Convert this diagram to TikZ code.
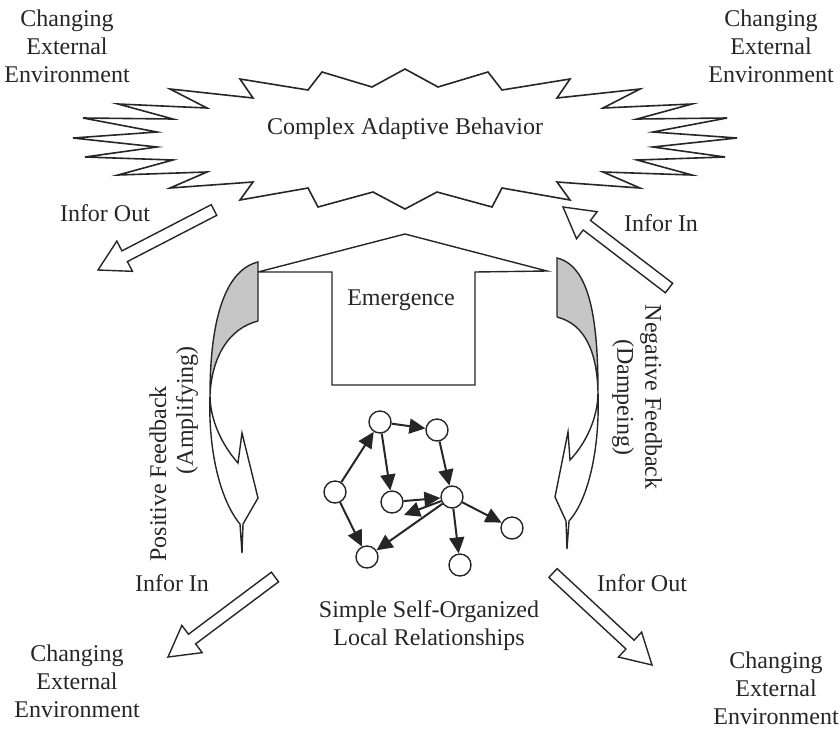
\documentclass[tikz,border=0pt]{standalone}
\usepackage{fontspec}
\setmainfont{Liberation Serif}
\usetikzlibrary{arrows.meta,calc}
\definecolor{ink}{HTML}{262626}
\definecolor{bandgrey}{HTML}{C6C6C6}
% hollow block arrow from #1 (tail) to #2 (tip)
\newcommand\hollowarrow[2]{%
  \coordinate (#1-neck) at ($(#2)!30pt!(#1)$);
  \draw[hollow] ($(#1)!6pt!90:(#2)$) -- ($(#1-neck)!6pt!90:(#2)$)
    -- ($(#1-neck)!17pt!90:(#2)$) -- (#2)
    -- ($(#1-neck)!17pt!-90:(#2)$) -- ($(#1-neck)!6pt!-90:(#2)$)
    -- ($(#1)!6pt!-90:(#2)$) -- cycle;}
\begin{document}
\begin{tikzpicture}[x=1pt,y=-1pt,
  lbl/.style={font=\fontsize{24}{28}\selectfont, text=ink, align=center, inner sep=0},
  outline/.style={draw=ink, line width=1.4pt, line join=miter},
  netnode/.style={circle, draw=ink, line width=1.4pt, minimum size=22pt, inner sep=0, fill=white},
  link/.style={draw=ink, line width=2pt, -{Triangle[length=16pt,width=15pt]}},
  hollow/.style={draw=ink, line width=1.4pt, fill=white, line join=miter}]
\useasboundingbox (0,0) rectangle (840,729);

% starburst
\draw[outline, line width=1.6pt]
  (73,138) -- (157,132) -- (83,118) -- (173,119) -- (118,104) -- (207,108)
  -- (170,89) -- (253,98) -- (240,79) -- (308,90) -- (322,72) -- (372,87)
  -- (405,69) -- (438,87) -- (488,72) -- (502,90) -- (570,79) -- (557,98)
  -- (640,89) -- (603,108) -- (692,104) -- (637,119) -- (727,118) -- (653,132)
  -- (737,138) -- (653,147) -- (725,157) -- (637,160) -- (692,175) -- (603,172)
  -- (640,188) -- (557,182) -- (570,200) -- (502,188) -- (492,207) -- (437,192)
  -- (405,209) -- (373,192) -- (318,207) -- (308,188) -- (240,200) -- (253,182)
  -- (170,188) -- (207,172) -- (118,175) -- (173,160) -- (85,157) -- (157,147)
  -- cycle;
\node[lbl] (cab) at (405,129) {Complex Adaptive Behavior};

% emergence block
\draw[outline, fill=white] (258,272) -- (405,234) -- (547,271) -- (475,272)
  -- (475,385) -- (332,385) -- (332,272) -- cycle;
\node[lbl] (emg) at (401,300) {Emergence};

% left twisted feedback arrow
\fill[bandgrey] (258,262) .. controls (225,270) and (210,320) .. (210,395)
  .. controls (212,355) and (230,328) .. (258,321) -- cycle;
\draw[outline] (258,321) -- (258,262) .. controls (225,270) and (210,320) .. (210,395)
  .. controls (208,450) and (220,500) .. (240,524) -- (242,553) -- (243,524)
  -- (258,498) -- (242,433) -- (238,463)
  .. controls (222,445) and (210,420) .. (210,395)
  .. controls (212,355) and (230,328) .. (258,321);

% right twisted feedback arrow
\fill[bandgrey] (557,258) .. controls (590,266) and (598,320) .. (598,392)
  .. controls (597,352) and (585,324) .. (557,317) -- cycle;
\draw[outline] (557,317) -- (557,258) .. controls (590,266) and (598,320) .. (598,392)
  .. controls (600,450) and (588,500) .. (569,521) -- (567,549) -- (566,521)
  -- (555,497) -- (568,432) -- (570,460)
  .. controls (586,443) and (598,418) .. (598,392)
  .. controls (597,352) and (585,324) .. (557,317);

% information arrows
\coordinate (ulT) at (214,210); \coordinate (ulH) at (98,270);
\coordinate (urT) at (669,288); \coordinate (urH) at (563,207);
\coordinate (llT) at (275,577); \coordinate (llH) at (168,657);
\coordinate (lrT) at (553,573); \coordinate (lrH) at (652,665);
\hollowarrow{ulT}{ulH}
\hollowarrow{urT}{urH}
\hollowarrow{llT}{llH}
\hollowarrow{lrT}{lrH}

% self-organized network
\node[netnode] (A) at (380,422) {};
\node[netnode] (B) at (437,430) {};
\node[netnode] (C) at (335,492) {};
\node[netnode] (D) at (392,502) {};
\node[netnode] (E) at (452,497) {};
\node[netnode] (F) at (512,528) {};
\node[netnode] (G) at (367,557) {};
\node[netnode] (H) at (460,565) {};
\coordinate (Dlow) at (404,515);
\draw[link] (C) -- (A);
\draw[link] (A) -- (B);
\draw[link] (A) -- (D);
\draw[link] (B) -- (E);
\draw[link] (D) -- (E);
\draw[link] (E) -- (Dlow);
\draw[link] (E) -- (G);
\draw[link] (C) -- (G);
\draw[link] (E) -- (F);
\draw[link] (E) -- (H);

% labels
\node[lbl] (envTL) at (67,46) {Changing\\External\\Environment};
\node[lbl] (envTR) at (771,46) {Changing\\External\\Environment};
\node[lbl] (envBL) at (77,681) {Changing\\External\\Environment};
\node[lbl] (envBR) at (776,688) {Changing\\External\\Environment};
\node[lbl] (outUL) at (105,213) {Infor Out};
\node[lbl] (inUR) at (661,223) {Infor In};
\node[lbl] (inLL) at (172,583) {Infor In};
\node[lbl] (outLR) at (642,583) {Infor Out};
\node[lbl] (sso) at (429,626) {Simple Self-Organized\\Local Relationships};
\node[lbl, rotate=90] (pfbA) at (158,474) {Positive Feedback};
\node[lbl, rotate=90] (pfbB) at (187,410) {(Amplifying)};
\node[lbl, rotate=-90] (nfb) at (637,397) {Negative Feedback\\(Dampeing)};
\end{tikzpicture}
\end{document}
